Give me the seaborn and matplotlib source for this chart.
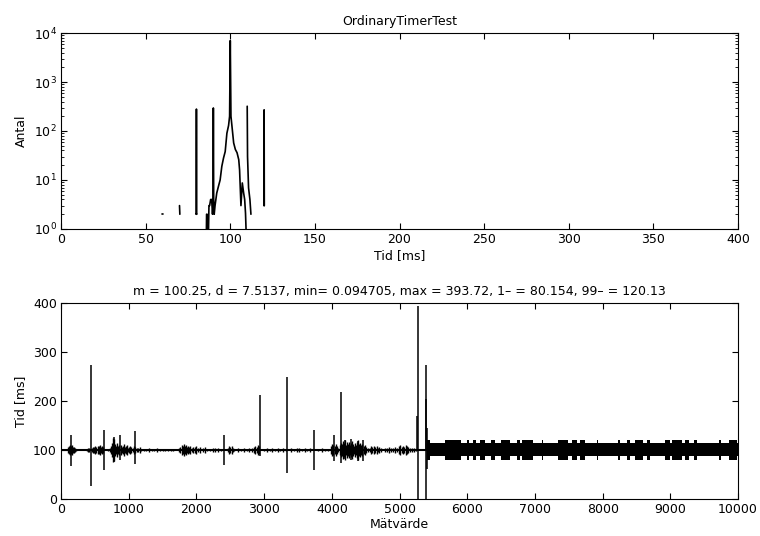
import numpy as np
import pandas as pd
import matplotlib
matplotlib.use("Agg")
import matplotlib.pyplot as plt
import seaborn as sns

# ---------------- data: top histogram (Tid [ms] -> Antal), NaN separates pieces
hist_x = [59.8, 60.4, np.nan,
          70.0, 70.2, np.nan,
          79.8, 79.9, 80.0, 80.1, 80.2, np.nan,
          85.8, 86.0, 86.3, 86.6, np.nan,
          87.0, 87.4, 87.8, 88.4, 89.0, 89.5, 89.8, 90.0, 90.2, 90.5, 91.0,
          92.0, 93.0, 94.0, 95.0, 96.0, 97.0, 98.0, 99.0, 99.6, 100.0, 100.4,
          101.0, 102.0, 103.0, 104.0, 105.0, 105.5, 106.3, 107.1, 107.9,
          108.5, 109.0, 109.6, np.nan,
          110.0, 110.2, 110.8, 111.6, 112.2, np.nan,
          113.9, 114.1, np.nan,
          114.4, 114.6, np.nan,
          119.9, 120.0, 120.1, np.nan,
          130.3, 130.7, np.nan,
          139.8, 140.3]
hist_y = [2, 2, np.nan,
          3, 2, np.nan,
          2, 2, 280, 2, 2, np.nan,
          0.5, 2, 2, 0.5, np.nan,
          0.5, 3, 3, 4, 4, 2, 3, 295, 4, 2, 3,
          5.4, 7.4, 10, 19, 28, 38, 90, 130, 200, 7000, 200,
          125, 57, 42, 36, 26, 16, 3, 8.7, 5.4,
          4, 2.1, 0.5, np.nan,
          320, 30, 6.9, 4, 2, np.nan,
          3, 3, np.nan,
          2, 2, np.nan,
          3, 270, 3, np.nan,
          5, 5, np.nan,
          2, 2]

# ---------------- data: bottom series (Mätvärde -> Tid [ms])
base_x = [0, 10000]
base_y = [100, 100]

# small jitter before index 5400: position and half-amplitude (ms) around 100
noise_x = [108, 120, 132, 150, 160, 172, 185, 198, 210, 222,
           380, 400, 420, 455, 470, 490, 505, 520, 540, 555, 570, 585, 600, 615,
           700, 720, 740, 760, 770, 785, 800, 815, 830, 845, 860, 880, 895, 910,
           925, 940, 955, 970, 985, 1000, 1020, 1040, 1060, 1075, 1100, 1120,
           1140, 1160, 1180,
           1220, 1260, 1300, 1340, 1380, 1420, 1460, 1500, 1540, 1580, 1620, 1660,
           1740, 1760, 1780, 1795, 1810, 1825, 1840, 1855, 1870, 1890, 1910, 1930,
           1950, 1975, 2000, 2030, 2060, 2090, 2120, 2150,
           2200, 2240, 2280, 2320, 2360,
           2460, 2480, 2500, 2520, 2540, 2560,
           2620, 2660, 2700, 2740, 2780, 2820, 2850, 2870, 2890, 2910, 2925,
           3000, 3040, 3080, 3120, 3160, 3200, 3240, 3280, 3320,
           3400, 3440, 3480, 3520, 3560, 3600, 3640, 3680,
           3800, 3860, 3900, 3940,
           3990, 4005, 4020, 4050, 4065, 4080, 4095,
           4115, 4130, 4150, 4165, 4180, 4195, 4210, 4225, 4240, 4255, 4270, 4285,
           4300, 4315, 4330, 4345, 4360, 4375, 4390, 4405, 4420, 4435, 4450, 4470,
           4490, 4510, 4530,
           4560, 4580, 4600, 4620, 4640, 4660, 4680, 4700, 4720,
           4780, 4810, 4840, 4870, 4900, 4930, 4960, 4990, 5010, 5030, 5050, 5070,
           5090, 5110, 5130, 5150, 5180, 5210, 5240]
noise_a = [6, 9, 11, 8, 10, 7, 6, 5, 4, 3,
           3, 4, 5, 5, 7, 6, 8, 7, 9, 8, 10, 7, 8, 6,
           3, 5, 8, 14, 25, 22, 12, 9, 14, 8, 10, 11, 7, 9,
           12, 6, 8, 10, 5, 7, 9, 6, 5, 8, 7, 5,
           4, 6, 3,
           3, 2, 4, 3, 3, 4, 2, 3, 3, 2, 3, 2,
           4, 7, 11, 9, 12, 8, 10, 7, 9, 6, 8, 5,
           7, 6, 8, 5, 6, 4, 7, 3,
           3, 5, 4, 5, 3,
           5, 8, 6, 9, 5, 3,
           4, 3, 4, 3, 4, 5, 6, 9, 7, 10, 8,
           3, 4, 3, 4, 3, 4, 3, 4, 3,
           4, 3, 4, 5, 3, 4, 3, 4,
           3, 4, 3, 2,
           8, 12, 10, 9, 13, 8, 5,
           10, 15, 12, 18, 14, 20, 11, 16, 13, 17, 10, 14,
           18, 12, 9, 15, 11, 16, 20, 12, 14, 10, 13, 9,
           11, 7, 5,
           5, 8, 6, 9, 7, 8, 5, 6, 4,
           4, 5, 6, 4, 5, 6, 5, 8, 10, 7, 9, 6,
           10, 8, 7, 5, 4, 5, 3]

# dense band after index 5400
core_start, core_end, core_lo, core_hi = 5410, 10000, 87, 114
block_start = [5410, 5666, 5997, 6086, 6185, 6357, 6505, 6728, 6802, 7098, 7345,
               7542, 7665, 7912, 8233, 8356, 8480, 8653, 8924, 9023, 9220, 9344,
               9714, 9862]
block_end = [5450, 5913, 6027, 6135, 6259, 6407, 6629, 6777, 6974, 7122, 7493,
             7616, 7740, 7937, 8258, 8406, 8603, 8702, 8998, 9171, 9270, 9393,
             9748, 9985]
block_lo = 80
block_hi = 121

# single spikes: index, low, high
spike_idx = [143, 442, 629, 777, 870, 1091, 2404, 2940, 3343, 3736, 4035, 4140,
             4200, 4290, 4380, 4460, 5255, 5271, 5385, 5395, 5405]
spike_lo = [68, 26, 60, 75, 80, 72, 70, 87, 53, 60, 77, 73,
            82, 80, 78, 77, 100, 0, 0, 100, 62]
spike_hi = [131, 273, 141, 127, 131, 139, 131, 212, 249, 140, 131, 218,
            120, 122, 119, 121, 170, 394, 274, 205, 145]

title_top = "OrdinaryTimerTest"
title_bottom = ("m = 100.25, d = 7.5137, min= 0.094705, max = 393.72, "
                "1\u2013 = 80.154, 99\u2013 = 120.13")

# ---------------- style
sns.set_theme(style="ticks")
plt.rcParams["font.family"] = ["DejaVu Sans"]
plt.rcParams.update({
    "axes.edgecolor": "black", "text.color": "black", "axes.labelcolor": "black",
    "xtick.color": "black", "ytick.color": "black", "axes.linewidth": 0.8,
    "mathtext.default": "regular",
})
FS = 9

fig = plt.figure(figsize=(7.6, 5.36), dpi=100)
ax1 = fig.add_axes([0.0803, 0.5728, 0.8908, 0.3656])
ax2 = fig.add_axes([0.0803, 0.0690, 0.8908, 0.3657])

# top
hx = np.array(hist_x, dtype=float)
hy = np.array(hist_y, dtype=float)
seg = np.cumsum(np.isnan(hx))
df = pd.DataFrame({"x": hx, "y": hy, "seg": seg}).dropna()
sns.lineplot(data=df, x="x", y="y", units="seg", estimator=None, sort=False,
             color="black", lw=1.2, ax=ax1, legend=False)
ax1.set_yscale("log")
ax1.set_xlim(0, 400)
ax1.set_ylim(1, 1e4)
ax1.set_xticks(range(0, 401, 50))
ax1.set_yticks([1, 10, 100, 1000, 10000])
ax1.set_title(title_top, fontsize=FS, pad=6)
ax1.set_xlabel("Tid [ms]", fontsize=FS, labelpad=2)
ax1.set_ylabel("Antal", fontsize=FS, labelpad=4)

# bottom
sns.lineplot(x=base_x, y=base_y, color="black", lw=1.5, ax=ax2)
nx = np.array(noise_x, dtype=float)
na = np.array(noise_a, dtype=float)
ax2.vlines(nx, 100 - na, 100 + na, color="black", lw=1.0)
ax2.fill_between([core_start, core_end], [core_lo, core_lo], [core_hi, core_hi],
                 color="black", lw=0)
for s, e in zip(block_start, block_end):
    ax2.fill_between([s, e], [block_lo, block_lo], [block_hi, block_hi],
                     color="black", lw=0)
ax2.vlines(spike_idx, spike_lo, spike_hi, color="black", lw=1.1)
ax2.set_xlim(0, 10000)
ax2.set_ylim(0, 400)
ax2.set_xticks(range(0, 10001, 1000))
ax2.set_yticks(range(0, 401, 100))
ax2.set_title(title_bottom, fontsize=FS, pad=6)
ax2.set_xlabel("Mätvärde", fontsize=FS, labelpad=1)
ax2.set_ylabel("Tid [ms]", fontsize=FS, labelpad=4)

for ax in (ax1, ax2):
    ax.tick_params(which="major", direction="in", top=True, right=True,
                   length=4, width=0.8, labelsize=FS, pad=3)
    ax.tick_params(which="minor", direction="in", top=False, right=True,
                   length=2, width=0.6)
    for sp in ax.spines.values():
        sp.set_visible(True)
        sp.set_color("black")
        sp.set_linewidth(0.8)
ax2.minorticks_off()

fig.savefig("out.png", dpi=100, facecolor="white")
